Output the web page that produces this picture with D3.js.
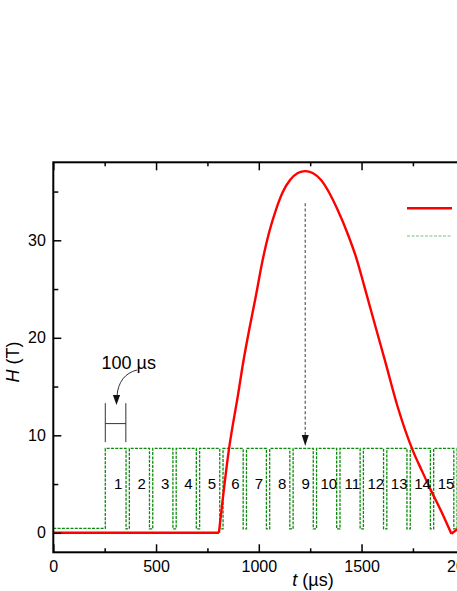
<!DOCTYPE html>
<html>
<head>
<meta charset="utf-8">
<script src="https://cdn.jsdelivr.net/npm/d3@7"></script>
<style>
  html, body { margin: 0; padding: 0; background: #fff; }
  svg { display: block; font-family: "Liberation Sans", Arial, sans-serif; }
</style>
</head>
<body>
<svg id="chart" width="457" height="591"></svg>
<script>
// ---------- data ----------
const xTicks = [0, 500, 1000, 1500, 2000];
const xMinorTicks = [250, 750, 1250, 1750];
const yTicks = [0, 10, 20, 30];
const yMinorTicks = [5, 15, 25, 35];

// red trace: magnetic field H (T) vs t (µs)
const redT = [0, 806, 855, 900, 925, 953, 985, 1018, 1050, 1083, 1118, 1153, 1190, 1226,
              1262, 1302, 1342, 1384, 1430, 1478, 1512, 1546, 1587, 1616, 1676, 1750, 1795,
              1839, 1890, 1937, 1969, 2000];
const redH = [0, 0, 8.6, 14.3, 17.6, 20.8, 24.2, 27.9, 30.8, 33.1, 35.0, 36.2, 36.9, 37.1,
              36.9, 36.2, 34.9, 33.1, 30.8, 27.95, 25.4, 22.8, 19.7, 17.5, 12.9, 8.4, 6.3,
              4.3, 2.1, -0.1, 0.4, 0.9];

// green trace: pulse train
const greenBase = 0.45;        // level before the train
const greenStart = 253;        // train start (µs)
const greenHigh = 8.65;        // top level
const greenDipLow = 0.4;       // dip level
const dipCenters = [362, 476, 590, 704, 818, 932, 1045, 1159, 1273, 1387, 1501, 1615, 1729, 1843, 1957];
const dipHalfWidth = 8;
const greenEnd = 2000;

const pulseLabels = ["1","2","3","4","5","6","7","8","9","10","11","12","13","14","15"];
const pulseLabelT = [316, 430, 544, 658, 772, 886, 1000, 1114, 1228, 1341, 1455, 1569, 1683, 1797, 1911];
const pulseLabelH = 5;

const markerT = 1226, markerTop = 33.8, markerBottom = 8.9;   // dashed arrow
const bracketT0 = 253, bracketT1 = 353, bracketH0 = 9.3, bracketH1 = 13.3, bracketHMid = 11.2;

// ---------- scales ----------
const svg = d3.select("#chart");
const x = d3.scaleLinear().domain([0, 2000]).range([53.3, 464.3]);
const y = d3.scaleLinear().domain([-2, 38]).range([552.3, 162.3]);

// ---------- traces ----------
// green
const greenPts = [[0, greenBase], [greenStart, greenBase], [greenStart, greenHigh]];
dipCenters.forEach(c => {
  greenPts.push([c - dipHalfWidth, greenHigh], [c - dipHalfWidth, greenDipLow],
                [c + dipHalfWidth, greenDipLow], [c + dipHalfWidth, greenHigh]);
});
greenPts.push([greenEnd, greenHigh]);
const lineLin = d3.line().x(d => x(d[0])).y(d => y(d[1]));
svg.append("path")
  .attr("d", lineLin(greenPts))
  .attr("fill", "none")
  .attr("stroke", "#0a8a0a")
  .attr("stroke-width", 1.3)
  .attr("stroke-dasharray", "3,1.3");

// red (flat part linear, pulse smooth, tail linear)
const redPts = redT.map((t, i) => [t, redH[i]]);
const iStart = 1, iMin = redT.indexOf(1937);
const lineSmooth = d3.line().x(d => x(d[0])).y(d => y(d[1])).curve(d3.curveMonotoneX);
const redG = svg.append("g").attr("fill", "none").attr("stroke", "#ff0000")
  .attr("stroke-width", 2.4).attr("stroke-linejoin", "round");
redG.append("path").attr("d", lineLin(redPts.slice(0, iStart + 1)));
redG.append("path").attr("d", lineSmooth(redPts.slice(iStart, iMin + 1)));
redG.append("path").attr("d", lineLin(redPts.slice(iMin)));

// pulse numbers
svg.append("g").selectAll("text").data(pulseLabels).join("text")
  .attr("x", (d, i) => x(pulseLabelT[i]))
  .attr("y", y(pulseLabelH))
  .attr("dy", "0.36em")
  .attr("text-anchor", "middle")
  .attr("font-size", 15)
  .text(d => d);

// dashed marker arrow
svg.append("line")
  .attr("x1", x(markerT)).attr("x2", x(markerT))
  .attr("y1", y(markerTop)).attr("y2", y(markerBottom) - 8)
  .attr("stroke", "#666").attr("stroke-width", 1.3).attr("stroke-dasharray", "3,2.2");
svg.append("path")
  .attr("d", `M${x(markerT)},${y(markerBottom)} l-3.5,-11 l7,0 z`)
  .attr("fill", "#111");

// 100 µs bracket
const bG = svg.append("g").attr("stroke", "#333").attr("stroke-width", 1).attr("fill", "none");
bG.append("line").attr("x1", x(bracketT0)).attr("x2", x(bracketT0)).attr("y1", y(bracketH1)).attr("y2", y(bracketH0));
bG.append("line").attr("x1", x(bracketT1)).attr("x2", x(bracketT1)).attr("y1", y(bracketH1)).attr("y2", y(bracketH0));
bG.append("line").attr("x1", x(bracketT0)).attr("x2", x(bracketT1)).attr("y1", y(bracketHMid)).attr("y2", y(bracketHMid));
// curved arrow from label to bracket
bG.append("path").attr("d", "M137,370 C125,373 118,382 117,396");
svg.append("path").attr("d", "M116.5,405 l-3.6,-10 l7.2,0 z").attr("fill", "#111");
svg.append("text").attr("x", 101.5).attr("y", 368.5).attr("font-size", 18).text("100 µs");

// ---------- axes ----------
const fmt = d3.format("d");
const axB = svg.append("g").attr("transform", `translate(0,${y.range()[0]})`)
  .call(d3.axisBottom(x).tickValues(xTicks).tickFormat(fmt).tickSize(-8).tickPadding(8.8));
const axBm = svg.append("g").attr("transform", `translate(0,${y.range()[0]})`)
  .call(d3.axisBottom(x).tickValues(xMinorTicks).tickFormat("").tickSize(-4));
const axT = svg.append("g").attr("transform", `translate(0,${y.range()[1]})`)
  .call(d3.axisTop(x).tickValues(xTicks).tickFormat("").tickSize(-8));
const axTm = svg.append("g").attr("transform", `translate(0,${y.range()[1]})`)
  .call(d3.axisTop(x).tickValues(xMinorTicks).tickFormat("").tickSize(-4));
const axL = svg.append("g").attr("transform", `translate(${x.range()[0]},0)`)
  .call(d3.axisLeft(y).tickValues(yTicks).tickFormat(fmt).tickSize(-8).tickPadding(7.5));
const axLm = svg.append("g").attr("transform", `translate(${x.range()[0]},0)`)
  .call(d3.axisLeft(y).tickValues(yMinorTicks).tickFormat("").tickSize(-5));

[axB, axBm, axT, axTm, axL, axLm].forEach(a => {
  a.select(".domain").remove();
  a.selectAll(".tick line").attr("stroke", "#000").attr("stroke-width", 1.5);
  a.selectAll(".tick text").attr("font-size", 16).attr("fill", "#000")
    .attr("font-family", "'Liberation Sans', Arial, sans-serif");
});

// frame
svg.append("rect")
  .attr("x", x.range()[0]).attr("y", y.range()[1])
  .attr("width", x.range()[1] - x.range()[0]).attr("height", y.range()[0] - y.range()[1])
  .attr("fill", "none").attr("stroke", "#000").attr("stroke-width", 2);

// axis titles
const yt = svg.append("text").attr("transform", "translate(19,362) rotate(-90)")
  .attr("text-anchor", "middle").attr("font-size", 18);
yt.append("tspan").attr("font-style", "italic").text("H");
yt.append("tspan").text(" (T)");
const xt = svg.append("text").attr("x", 313).attr("y", 586)
  .attr("text-anchor", "middle").attr("font-size", 18);
xt.append("tspan").attr("font-style", "italic").text("t");
xt.append("tspan").text(" (µs)");

// legend samples (text lies outside the visible area)
svg.append("line").attr("x1", 407).attr("x2", 452).attr("y1", 208.3).attr("y2", 208.3)
  .attr("stroke", "#ff0000").attr("stroke-width", 2.4);
svg.append("line").attr("x1", 407).attr("x2", 452).attr("y1", 236).attr("y2", 236)
  .attr("stroke", "#0a8a0a").attr("stroke-width", 1.2).attr("stroke-dasharray", "3,1.5")
  .attr("stroke-opacity", 0.55);
</script>
</body>
</html>
